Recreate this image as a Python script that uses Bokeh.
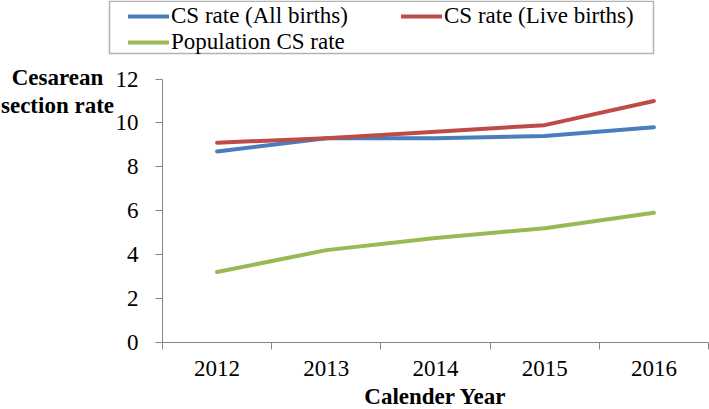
from bokeh.plotting import figure
from bokeh.models import (Legend, LegendItem, FixedTicker, Range1d, Label, BoxAnnotation)
from bokeh.embed import file_html
from bokeh.resources import INLINE

# ---------------- data ----------------
years = [2012, 2013, 2014, 2015, 2016]
all_births = [8.7, 9.3, 9.3, 9.4, 9.8]
live_births = [9.1, 9.3, 9.6, 9.9, 11.0]
population = [3.2, 4.2, 4.75, 5.2, 5.9]
y_ticks = [0, 2, 4, 6, 8, 10, 12]
series_names = ["CS rate (All births)", "CS rate (Live births)", "Population CS rate"]
series_colors = ["#4A7EBB", "#BE4B48", "#98B954"]
y_title = "Cesarean\nsection rate"
x_title = "Calender Year"

# ---------------- layout constants (pixels) ----------------
W, H = 709, 409
AX_L, AX_R = 162, 708        # value axis / right end of category axis
AX_T, AX_B = 78.6, 341.7     # top of value axis (12) / category axis (0)
FONT = "Liberation Serif"
FS = "23px"
AXIS = "#868686"

x0, x1 = years[0] - 0.5, years[-1] + 0.5
y0, y1 = y_ticks[0], y_ticks[-1]
xpp = (x1 - x0) / (AX_R - AX_L)
ypp = (y1 - y0) / (AX_B - AX_T)

p = figure(width=W, height=H, output_backend="svg", toolbar_location=None, title=None,
           x_range=Range1d(x0 - AX_L * xpp, x1 + (W - AX_R) * xpp),
           y_range=Range1d(y0 - (H - AX_B) * ypp, y1 + AX_T * ypp),
           min_border=0)
p.outline_line_color = None
p.grid.visible = False

rends = []
for vals, col in zip([all_births, live_births, population], series_colors):
    rends.append(p.line(years, vals, line_color=col, line_width=4,
                        line_cap="round", line_join="round"))

# category axis: labels at the years, tick marks between them
xa = p.xaxis[0]
xa.fixed_location = y0
xa.bounds = (x0, x1)
xa.ticker = FixedTicker(ticks=years, minor_ticks=[y - 0.5 for y in years] + [x1])
xa.major_tick_out = 0
xa.major_tick_in = 0
xa.minor_tick_out = 7
xa.minor_tick_in = 0
xa.minor_tick_line_color = AXIS
xa.axis_line_color = AXIS
xa.major_label_text_font = FONT
xa.major_label_text_font_size = FS
xa.major_label_text_color = "black"
xa.major_label_standoff = 12
xa.axis_label = x_title
xa.axis_label_text_font = FONT
xa.axis_label_text_font_size = FS
xa.axis_label_text_font_style = "bold"
xa.axis_label_text_color = "black"
xa.axis_label_standoff = 4

ya = p.yaxis[0]
ya.fixed_location = x0
ya.bounds = (y0, y1)
ya.ticker = FixedTicker(ticks=y_ticks, minor_ticks=[])
ya.major_tick_out = 7
ya.major_tick_in = 0
ya.major_tick_line_color = AXIS
ya.axis_line_color = AXIS
ya.major_label_text_font = FONT
ya.major_label_text_font_size = FS
ya.major_label_text_color = "black"
ya.major_label_standoff = 17

# horizontal value-axis title at the top left (Excel style)
p.add_layout(Label(x=57, y=H - 64, x_units="screen", y_units="screen",
                   text=y_title, text_align="center", text_baseline="top",
                   text_font=FONT, text_font_size=FS, text_font_style="bold",
                   text_line_height=1.12, text_color="black"))

# legend (two columns) with a separate frame box
legend = Legend(items=[LegendItem(label=n, renderers=[r]) for n, r in zip(series_names, rends)],
                orientation="horizontal", ncols=2, location=(128, H - 55))
legend.margin = 0
legend.padding = 2
legend.spacing = 0
legend.glyph_width = 41
legend.glyph_height = 20
legend.label_standoff = 2
legend.label_width = 230
legend.label_height = 25
legend.label_text_font = FONT
legend.label_text_font_size = FS
legend.label_text_color = "black"
legend.border_line_color = None
legend.background_fill_alpha = 0
p.add_layout(legend)

p.add_layout(BoxAnnotation(left=109, right=653, top=H - 0.75, bottom=H - 53,
                           left_units="screen", right_units="screen",
                           top_units="screen", bottom_units="screen",
                           fill_alpha=0, line_color="black", line_width=1.5))

open("out.html", "w").write(file_html(p, INLINE))
